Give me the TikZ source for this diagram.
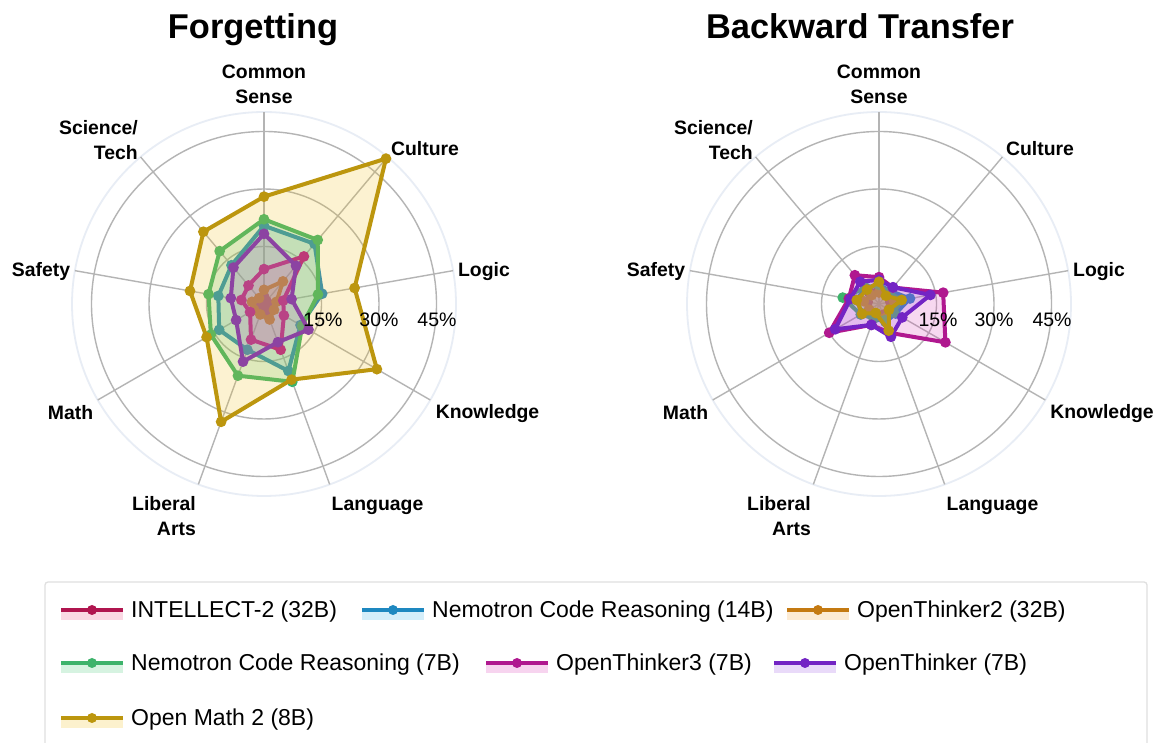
\documentclass[tikz,border=0pt]{standalone}
\usepackage{fontspec}
\setmainfont{Liberation Sans}
\definecolor{cINT}{HTML}{B0154F}
\definecolor{cNXIV}{HTML}{1E88C0}
\definecolor{cOTII}{HTML}{C47A12}
\definecolor{cNVII}{HTML}{3DB36B}
\definecolor{cOTIII}{HTML}{B0188F}
\definecolor{cOT}{HTML}{7324C4}
\definecolor{cOM}{HTML}{BC960E}
\definecolor{fINT}{HTML}{E8507F}
\definecolor{fNXIV}{HTML}{3AB0EA}
\definecolor{fOTII}{HTML}{F0A23A}
\definecolor{fNVII}{HTML}{45C775}
\definecolor{fOTIII}{HTML}{DA3CB8}
\definecolor{fOT}{HTML}{9A55E6}
\definecolor{fOM}{HTML}{F2C21B}
\definecolor{gridgray}{HTML}{B4B4B4}
\definecolor{spinecol}{HTML}{E8EDF5}
\definecolor{framecol}{HTML}{E0E0E0}
\tikzset{
  seriesline/.style={draw=#1, line width=4pt, line join=round},
  seriesfill/.style={fill=#1, fill opacity=0.2},
  gridline/.style={draw=gridgray, line width=1.4pt},
  spineline/.style={draw=spinecol, line width=1.8pt},
  titletext/.style={font=\bfseries\fontsize{34.4}{40}\selectfont, inner sep=0pt},
  axlabel/.style={font=\bfseries\fontsize{19.4}{25}\selectfont, inner sep=0pt},
  pctlabel/.style={font=\fontsize{19.5}{23}\selectfont, inner sep=0pt},
  legtext/.style={font=\fontsize{23}{28}\selectfont, inner sep=0pt, anchor=base west},
  legframe/.style={draw=framecol, line width=1.3pt, rounded corners=3pt},
}
\newcommand\mkrpath[1]{%
  \gdef\rpath{}%
  \foreach \v [count=\i from 0] in {#1}{%
    \pgfmathsetmacro\ang{90-40*\i}%
    \pgfmathsetmacro\rad{3.8333*\v}%
    \ifnum\i=0 \xdef\rpath{(\ang:\rad)}\else\xdef\rpath{\rpath -- (\ang:\rad)}\fi
  }%
}
\newcommand\radarseries[3]{% line colour, fill colour, values
  \mkrpath{#3}%
  \edef\tmpfill{\noexpand\fill[seriesfill=#2] \rpath -- cycle;}\tmpfill
  \edef\tmpdraw{\noexpand\draw[seriesline=#1] \rpath -- cycle;}\tmpdraw
  \foreach \v [count=\i from 0] in {#3}{\fill[#1] ({90-40*\i}:{3.8333*\v}) circle (5.4pt);}%
}
\newcommand\radargrid{%
  \foreach \r in {57.5,115,172.5} \draw[gridline] (0,0) circle (\r pt);
  \draw[spineline] (0,0) circle (192pt);
  \foreach \i in {0,...,8} \draw[gridline] (0,0) -- ({90-40*\i}:192);
}
\newcommand\legentry[5]{% x, y (image coords), colour, fill colour, text
  \fill[#4!22] (#1,{743-#2-10}) rectangle ({#1+62},{743-#2+2});
  \draw[#3, line width=4pt] (#1,{743-#2}) -- ({#1+62},{743-#2});
  \fill[#3] ({#1+31},{743-#2}) circle (5pt);
  \node[legtext] at ({#1+70},{743-#2-8}) {#5};
}
\begin{document}
\begin{tikzpicture}[x=1pt,y=1pt]
\useasboundingbox (0,0) rectangle (1155,743);
\fill[white] (0,0) rectangle (1155,743);
% titles
\node[titletext, anchor=base] (titleL) at (253,704) {Forgetting};
\node[titletext, anchor=base] (titleR) at (860,704) {Backward Transfer};
% left chart
\begin{scope}[shift={(264,439)}]
  \radargrid
  \radarseries{cINT}{fINT}{2,1,1,1,2,1,1,1,1.5}
  \radarseries{cNXIV}{fNXIV}{20.4,20.5,15.4,11,18.6,12.7,13.5,12.1,13.2}
  \radarseries{cOTII}{fOTII}{3.7,7.7,3.3,3,4.3,2.9,3,3.2,2}
  \radarseries{cNVII}{fNVII}{22.1,21.8,14.3,11.5,21.6,19.9,16,14.7,18}
  \radarseries{cOTIII}{fOTIII}{9.1,16.2,5.1,6,12.7,9.9,4.2,6,6.3}
  \radarseries{cOT}{fOT}{18.3,13,7.3,13.4,10.6,16,8.4,8.8,12.4}
  \radarseries{cOM}{fOM}{28,49.5,24,34,21,32.7,17.3,19.6,24.6}
\end{scope}
% right chart
\begin{scope}[shift={(879,439)}]
  \radargrid
  \radarseries{cINT}{fINT}{4,3,3,3,3,3,3,3,4}
  \radarseries{cNXIV}{fNXIV}{5,4.5,8.2,5,5,4,5,6,5.5}
  \radarseries{cOTII}{fOTII}{3,3,4,3,4,3,3,4,3}
  \radarseries{cNVII}{fNVII}{5,4,6,4.5,4.5,4,5.5,9.6,5.5}
  \radarseries{cOTIII}{fOTIII}{7,5.6,17,20,8,5.8,15,8,9.8}
  \radarseries{cOT}{fOT}{6.3,5.7,13.6,7,9.1,5.8,13.2,7.6,7.6}
  \radarseries{cOM}{fOM}{5.8,2.8,6,3,7.4,2.5,5.1,5.9,4.9}
\end{scope}
% percent labels
\node[pctlabel, anchor=base] (pL1) at (323,416) {15\%};
\node[pctlabel, anchor=base] (pL2) at (379,416) {30\%};
\node[pctlabel, anchor=base] (pL3) at (437,416) {45\%};
\node[pctlabel, anchor=base] (pR1) at (938,416) {15\%};
\node[pctlabel, anchor=base] (pR2) at (994,416) {30\%};
\node[pctlabel, anchor=base] (pR3) at (1052,416) {45\%};
% axis labels left
\node[axlabel, align=center] (lCS) at (264,658.5) {Common\\Sense};
\node[axlabel, anchor=base] (lCU) at (425,587) {Culture};
\node[axlabel, anchor=base] (lLO) at (484,466) {Logic};
\node[axlabel, anchor=base] (lKN) at (487.5,324) {Knowledge};
\node[axlabel, anchor=base] (lLA) at (377.5,232) {Language};
\node[axlabel, align=right, anchor=east] (lLI) at (196,226.5) {Liberal\\Arts};
\node[axlabel, anchor=base] (lMA) at (70.5,323) {Math};
\node[axlabel, anchor=base] (lSA) at (41,466) {Safety};
\node[axlabel, align=right, anchor=east] (lST) at (138,603) {Science/\\Tech};
% axis labels right
\node[axlabel, align=center] (rCS) at (879,658.5) {Common\\Sense};
\node[axlabel, anchor=base] (rCU) at (1040,587) {Culture};
\node[axlabel, anchor=base] (rLO) at (1099,466) {Logic};
\node[axlabel, anchor=base] (rKN) at (1102,324) {Knowledge};
\node[axlabel, anchor=base] (rLA) at (992.5,232) {Language};
\node[axlabel, align=right, anchor=east] (rLI) at (811,226.5) {Liberal\\Arts};
\node[axlabel, anchor=base] (rMA) at (685.5,323) {Math};
\node[axlabel, anchor=base] (rSA) at (656,466) {Safety};
\node[axlabel, align=right, anchor=east] (rST) at (753,603) {Science/\\Tech};
% legend
\draw[legframe] (45,-6) -- (45,161) -- (1147,161) -- (1147,-6);
\legentry{61}{610}{cINT}{fINT}{INTELLECT-2 (32B)}
\legentry{362}{610}{cNXIV}{fNXIV}{Nemotron Code Reasoning (14B)}
\legentry{787}{610}{cOTII}{fOTII}{OpenThinker2 (32B)}
\legentry{61}{663}{cNVII}{fNVII}{Nemotron Code Reasoning (7B)}
\legentry{486}{663}{cOTIII}{fOTIII}{OpenThinker3 (7B)}
\legentry{774}{663}{cOT}{fOT}{OpenThinker (7B)}
\legentry{61}{718}{cOM}{fOM}{Open Math 2 (8B)}
\end{tikzpicture}
\end{document}
